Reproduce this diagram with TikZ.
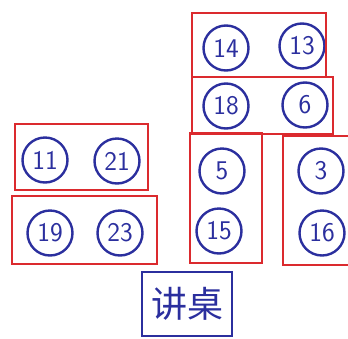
\documentclass[tikz,border=0pt]{standalone}
\usepackage{fontspec}
\newfontfamily\cjk{Noto Sans CJK SC}
\usetikzlibrary{positioning,fit}
\definecolor{penblue}{HTML}{2B2F9E}
\definecolor{penred}{HTML}{DB2A2E}

\tikzset{
  seat/.style={draw=penblue,line width=2.4pt,circle,minimum size=45pt,inner sep=0pt,text=penblue,font=\fontsize{27}{27}\selectfont\sffamily},
  desk/.style={draw=penred,line width=1.6pt,inner sep=0pt}
}

\begin{document}
\begin{tikzpicture}[x=1pt,y=-1pt]
        \useasboundingbox (0,0) rectangle (348,338);
        \clip (0,0) rectangle (348,338);
        % back right group
        \node[seat] (s14) at (226,48) {14};
        \node[seat] (s13) at (302,46) {13};
        \node[seat] (s18) at (226,106) {18};
        \node[seat] (s6) at (305,105) {6};
        % left group
        \node[seat] (s11) at (45,160) {11};
        \node[seat] (s21) at (117,161) {21};
        \node[seat] (s19) at (50,233) {19};
        \node[seat] (s23) at (120,233) {23};
        % middle and right columns
        \node[seat] (s5) at (222,171) {5};
        \node[seat] (s15) at (219,231) {15};
        \node[seat] (s3) at (321,171) {3};
        \node[seat] (s16) at (322,233) {16};
        % tables
        \node[desk,fit={(192,13) (326,77)}] (tA) {};
        \node[desk,fit={(192,77) (333,134)}] (tB) {};
        \node[desk,fit={(15,124) (148,190)}] (tC) {};
        \node[desk,fit={(12,196) (157,264)}] (tD) {};
        \node[desk,fit={(190,133) (262,263)}] (tE) {};
        \node[desk,fit={(283,136) (360,265)}] (tF) {};
        % lectern
        \node[draw=penblue,line width=2.4pt,minimum width=90pt,minimum height=64pt,text=penblue,font=\fontsize{36}{36}\selectfont\cjk] (lectern) at (187,304) {讲桌};
      \end{tikzpicture}
\end{document}
